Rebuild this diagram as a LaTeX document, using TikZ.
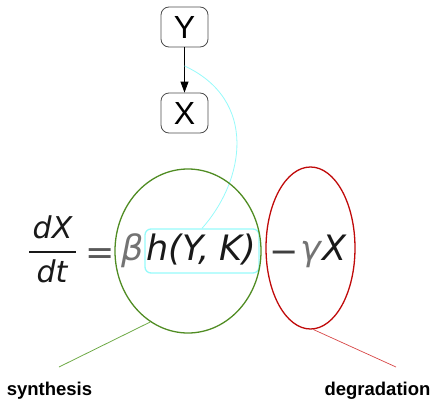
\documentclass[tikz,border=0pt]{standalone}
\usepackage{fontspec}
\setmainfont{Liberation Sans}
\newfontfamily\eqf{DejaVu Sans}
\usetikzlibrary{arrows.meta,shapes.geometric}
\definecolor{cy}{RGB}{150,250,250}
\definecolor{gr}{RGB}{80,140,35}
\definecolor{grl}{RGB}{110,170,70}
\definecolor{rd}{RGB}{192,10,10}
\definecolor{rdl}{RGB}{215,70,70}
\definecolor{txt}{RGB}{25,25,25}
\begin{document}
\begin{tikzpicture}[x=1pt,y=-1pt,
  vbox/.style={draw=black!70,line width=0.8pt,rounded corners=8pt,minimum width=47pt,minimum height=40pt,inner sep=0pt,font=\fontsize{32}{34}\selectfont},
  eqtxt/.style={inner sep=0pt,anchor=base west,text=txt,font=\eqf\itshape\fontsize{35}{40}\selectfont},
  frtxt/.style={inner sep=0pt,anchor=base,text=txt,font=\eqf\itshape\fontsize{30}{34}\selectfont},
  lbl/.style={inner sep=0pt,anchor=base,font=\bfseries\fontsize{18.5}{20}\selectfont}]
\useasboundingbox (0,0) rectangle (434,399);
% gene boxes
\node[vbox] (Y) at (184.5,27) {Y};
\node[vbox] (X) at (184.5,113) {X};
\draw[line width=0.8pt,-{Triangle[length=11pt,width=8pt]}] (Y) -- (X) coordinate[pos=0.41] (mid);
% equation
\node[frtxt] (dX) at (52.5,238) {dX};
\node[frtxt] (dt) at (52,282) {dt};
\coordinate (fl) at (29,252);
\coordinate (fr) at (76,252);
\draw[line width=1.6pt,txt] (fl) -- (fr);
\node[inner sep=0pt,anchor=base,text=black!65,font=\eqf\fontsize{35}{38}\selectfont] (eqs) at (100,264) {=};
\node[eqtxt,text=black!55] (beta) at (121,260) {β};
\node[eqtxt] (hyk) at (146,260) {h(Y,\;K)};
\node[inner sep=0pt,anchor=base west,text=black!75,font=\eqf\fontsize{35}{38}\selectfont] (minus) at (269,263) {−};
\node[eqtxt,text=black!55] (gam) at (300,260) {γ};
\node[eqtxt] (Xe) at (322,260) {X};
% highlight
\node[draw=cy,line width=1.3pt,rounded corners=6pt,minimum width=114pt,minimum height=44pt,inner sep=0pt] (hbox) at (202,251) {};
\draw[cy,line width=0.8pt] (mid) .. controls (258,100) and (245,180) .. (hbox.north);
% synthesis / degradation
\node[draw=gr,line width=1.3pt,ellipse,minimum width=146pt,minimum height=164pt,inner sep=0pt] (syn) at (188,251) {};
\node[draw=rd,line width=1.3pt,ellipse,minimum width=89pt,minimum height=162pt,inner sep=0pt] (deg) at (310.5,248) {};
\coordinate (se) at (59,367);
\coordinate (de) at (396,367);
\draw[grl,line width=0.8pt] (syn.-118) -- (se);
\draw[rdl,line width=0.7pt] (deg.-88) -- (de);
\node[lbl] (synl) at (49.5,395) {synthesis};
\node[lbl] (degl) at (377.5,395) {degradation};
\end{tikzpicture}
\end{document}
